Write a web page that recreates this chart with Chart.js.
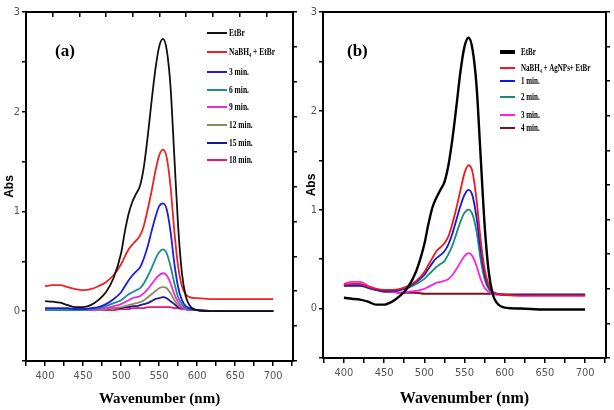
<!DOCTYPE html>
<html>
<head>
<meta charset="utf-8">
<script src="https://cdn.jsdelivr.net/npm/chart.js@4.4.0/dist/chart.umd.min.js"></script>
<style>
body{margin:0;background:#fff;width:614px;height:410px;overflow:hidden;position:relative}
.panel{position:absolute;top:0;height:410px}
#pa{left:0;width:300px}
#pb{left:300px;width:314px}
</style>
</head>
<body>
<div class="panel" id="pa"><canvas id="chartA"></canvas></div>
<div class="panel" id="pb"><canvas id="chartB"></canvas></div>
<script>
// wavelength grid (nm) shared by every trace
const wavelengths=[400,410,420,430,440,450,460,470,480,490,500,505,510,515,520,525,530,535,540,545,550,555,560,565,570,575,580,585,590,600,620,650,680,700];

// panel (a) - NaBH4 only
const aEtBr =[0.10,0.095,0.085,0.06,0.04,0.04,0.06,0.11,0.19,0.33,0.58,0.80,0.98,1.10,1.18,1.26,1.45,1.75,2.10,2.42,2.65,2.73,2.62,2.25,1.55,0.85,0.38,0.15,0.06,0.01,0,0,0,0];
const aNaBH4=[0.25,0.26,0.26,0.24,0.22,0.21,0.22,0.25,0.29,0.36,0.47,0.55,0.62,0.67,0.71,0.76,0.86,1.02,1.20,1.40,1.56,1.62,1.54,1.25,0.80,0.45,0.25,0.17,0.14,0.13,0.12,0.12,0.12,0.12];
const a3min =[0.03,0.03,0.03,0.03,0.02,0.02,0.03,0.04,0.07,0.12,0.19,0.25,0.31,0.36,0.40,0.44,0.53,0.65,0.80,0.94,1.05,1.08,1.02,0.80,0.48,0.24,0.11,0.05,0.03,0.01,0,0,0,0];
const a6min =[0.01,0.01,0.01,0.01,0.01,0.01,0.02,0.03,0.05,0.08,0.11,0.14,0.17,0.19,0.21,0.23,0.28,0.35,0.43,0.52,0.59,0.62,0.58,0.45,0.28,0.14,0.07,0.03,0.02,0.01,0,0,0,0];
const a9min =[0.01,0.01,0.01,0.01,0.01,0.01,0.01,0.02,0.03,0.05,0.07,0.09,0.11,0.13,0.14,0.15,0.18,0.22,0.27,0.32,0.36,0.38,0.36,0.28,0.17,0.09,0.04,0.02,0.01,0.01,0,0,0,0];
const a12min=[0.01,0.01,0.01,0.01,0.01,0.01,0.01,0.01,0.02,0.03,0.04,0.05,0.06,0.07,0.08,0.09,0.11,0.14,0.17,0.20,0.23,0.24,0.23,0.18,0.11,0.06,0.03,0.02,0.01,0.01,0,0,0,0];
const a15min=[0.02,0.02,0.02,0.02,0.02,0.02,0.02,0.02,0.02,0.03,0.03,0.04,0.04,0.05,0.05,0.06,0.07,0.08,0.10,0.12,0.13,0.14,0.13,0.10,0.07,0.04,0.03,0.02,0.01,0.01,0,0,0,0];
const a18min=[0.01,0.01,0.01,0.01,0.01,0.01,0.01,0.01,0.01,0.01,0.02,0.02,0.02,0.03,0.03,0.03,0.03,0.04,0.04,0.04,0.04,0.04,0.04,0.04,0.03,0.03,0.02,0.02,0.01,0.01,0,0,0,0];

// panel (b) - NaBH4 + AgNPs
const bEtBr =[0.11,0.10,0.09,0.07,0.04,0.04,0.07,0.13,0.22,0.38,0.65,0.85,1.02,1.12,1.20,1.28,1.45,1.72,2.05,2.40,2.65,2.74,2.62,2.25,1.55,0.85,0.38,0.15,0.06,0.01,0,-0.01,-0.01,-0.01];
const bNaBH4=[0.24,0.25,0.25,0.22,0.20,0.19,0.19,0.20,0.23,0.28,0.37,0.44,0.51,0.58,0.62,0.66,0.73,0.86,1.02,1.20,1.37,1.45,1.38,1.10,0.70,0.40,0.24,0.17,0.15,0.14,0.13,0.13,0.13,0.13];
const b1min =[0.23,0.23,0.23,0.21,0.19,0.18,0.18,0.19,0.22,0.27,0.34,0.40,0.46,0.51,0.54,0.58,0.65,0.76,0.90,1.04,1.15,1.20,1.14,0.92,0.60,0.35,0.22,0.17,0.15,0.14,0.14,0.14,0.14,0.14];
const b2min =[0.23,0.24,0.24,0.21,0.19,0.18,0.18,0.19,0.21,0.25,0.30,0.34,0.38,0.42,0.45,0.48,0.55,0.64,0.76,0.88,0.97,1.00,0.95,0.78,0.50,0.30,0.20,0.16,0.15,0.14,0.14,0.14,0.14,0.14];
const b3min =[0.25,0.27,0.27,0.23,0.20,0.18,0.17,0.16,0.17,0.18,0.20,0.22,0.24,0.26,0.27,0.28,0.30,0.34,0.40,0.47,0.53,0.56,0.53,0.43,0.30,0.21,0.17,0.15,0.14,0.14,0.13,0.13,0.13,0.13];
const b4min =[0.24,0.24,0.24,0.22,0.19,0.17,0.17,0.16,0.16,0.16,0.15,0.15,0.15,0.15,0.15,0.15,0.15,0.15,0.15,0.15,0.15,0.15,0.15,0.15,0.15,0.15,0.15,0.15,0.15,0.14,0.14,0.14,0.14,0.14];

const labelsA=["EtBr","NaBH\u2084 + EtBr","3 min.","6 min.","9 min.","12 min.","15 min.","18 min."];
const labelsB=["EtBr","NaBH\u2084 + AgNPs+ EtBr","1 min.","2 min.","3 min.","4 min."];
const yTicks=[-0.5,0,0.5,1,1.5,2,2.5,3];
const xTicks=[375,400,425,450,475,500,525,550,575,600,625,650,675,700,725];

function toPoints(vals){
    return wavelengths.map((w,i)=>({x:w,y:vals[i]}));
}

function makeSet(label,vals,color,width){
    return {label:label,data:toPoints(vals),borderColor:color,backgroundColor:color,borderWidth:width,
        pointRadius:0,tension:0.4,cubicInterpolationMode:'monotone',fill:false};
}

// legend + panel tag drawn inside the plot box
const panelLegend={
    id:'panelLegend',
    afterDatasetsDraw(chart,args,opts){
        const ctx=chart.ctx;
        ctx.save();
        ctx.fillStyle='#000';
        ctx.textBaseline='middle';
        ctx.font='bold 17px "Liberation Serif"';
        ctx.fillText(opts.tag,opts.tagX,opts.tagY);
        chart.data.datasets.forEach((ds,i)=>{
            const y=opts.rows[i];
            ctx.strokeStyle=ds.borderColor;
            ctx.lineWidth=opts.lineWidths[i];
            ctx.beginPath();
            ctx.moveTo(opts.lineX0,y);
            ctx.lineTo(opts.lineX1,y);
            ctx.stroke();
            ctx.save();
            ctx.translate(opts.textX,y);
            ctx.scale(opts.squeeze,1);
            ctx.font=opts.font;
            ctx.fillText(ds.label,0,0);
            ctx.restore();
        });
        ctx.restore();
    }
};

function makeChart(canvas,datasets,box,legendOpts){
    return new Chart(canvas,{
        type:'line',
        data:{datasets:datasets},
        plugins:[panelLegend],
        options:{
            responsive:true,
            maintainAspectRatio:false,
            animation:false,
            layout:{padding:0},
            plugins:{legend:{display:false},tooltip:{enabled:false},panelLegend:legendOpts},
            scales:{
                x:{type:'linear',position:'bottom',min:box.xMin,max:box.xMax,
                    afterFit:(s)=>{s.height=box.bottomH;},
                    afterBuildTicks:(s)=>{s.ticks=xTicks.map(v=>({value:v}));},
                    ticks:{autoSkip:false,maxRotation:0,padding:4,color:'#555',font:{family:'"Liberation Sans Narrow","DejaVu Sans Condensed"',size:11},
                        callback:(v)=>(v%50===0&&v>=400&&v<=700)?v:''},
                    grid:{drawOnChartArea:false,color:'#000',tickLength:5,lineWidth:1.5},
                    border:{color:'#000',width:2},
                    title:{display:true,text:'Wavenumber (nm)',color:'#000',padding:{top:0,bottom:2},
                        font:{family:'"Liberation Serif"',size:box.titleSize,weight:'bold'}}},
                x2:{type:'linear',position:'top',min:0,max:box.xMax-box.xMin,
                    afterFit:(s)=>{s.height=box.topH;},
                    ticks:{display:false,stepSize:35},
                    grid:{drawOnChartArea:false,color:'#000',tickLength:box.topTick,lineWidth:1.5},
                    border:{color:'#000',width:2}},
                y:{type:'linear',position:'left',min:-0.5,max:3,
                    afterFit:(s)=>{s.width=box.leftW;},
                    afterBuildTicks:(s)=>{s.ticks=yTicks.map(v=>({value:v}));},
                    ticks:{autoSkip:false,padding:2,color:'#555',font:{family:'"Liberation Sans Narrow","DejaVu Sans Condensed"',size:11},
                        callback:(v)=>Number.isInteger(v)?v:''},
                    grid:{drawOnChartArea:false,color:'#000',tickLength:4,lineWidth:1.5},
                    border:{color:'#000',width:2},
                    title:{display:true,text:'Abs',color:'#000',padding:{top:box.absPad,bottom:0},
                        font:{family:'"Liberation Sans"',size:12,weight:'bold'}}},
                y2:{type:'linear',position:'right',min:0,max:3.5,
                    afterFit:(s)=>{s.width=box.rightW;},
                    ticks:{display:false,stepSize:0.35},
                    grid:{drawOnChartArea:false,color:'#000',tickLength:4,lineWidth:1.5},
                    border:{color:'#000',width:2}}
            }
        }
    });
}

const colorsA=['#111111','#ee2222','#1c1ce6','#1e8c8a','#ee2ad8','#8d8a60','#1a1a90','#e8157a'];
const valsA=[aEtBr,aNaBH4,a3min,a6min,a9min,a12min,a15min,a18min];
const setsA=valsA.map((v,i)=>makeSet(labelsA[i],v,colorsA[i],1.8));

const colorsB=['#000000','#f01818','#1414e8','#1a8a7a','#ff20e0','#7a1020'];
const valsB=[bEtBr,bNaBH4,b1min,b2min,b3min,b4min];
const setsB=valsB.map((v,i)=>makeSet(labelsB[i],v,colorsB[i],i===0?2.4:1.8));

makeChart(document.getElementById('chartA'),setsA,
    {xMin:375,xMax:726,leftW:26,rightW:7,topH:12,bottomH:49,topTick:-5,titleSize:15,absPad:2},
    {tag:'(a)',tagX:55,tagY:52,rows:[33,52,72,90,107,125,143,160],lineWidths:[2,2,2,2,2,2,2,2],
        lineX0:207,lineX1:227,textX:229,squeeze:0.68,font:'bold 11px "Liberation Serif"'});

makeChart(document.getElementById('chartB'),setsB,
    {xMin:374,xMax:726,leftW:23,rightW:8,topH:12,bottomH:52,topTick:0,titleSize:16,absPad:4},
    {tag:'(b)',tagX:47,tagY:52,rows:[52,68,81,97,115,128],lineWidths:[4,2,2,2,2,2],
        lineX0:200,lineX1:215,textX:221,squeeze:0.7,font:'bold 10px "Liberation Serif"'});
</script>
</body>
</html>
